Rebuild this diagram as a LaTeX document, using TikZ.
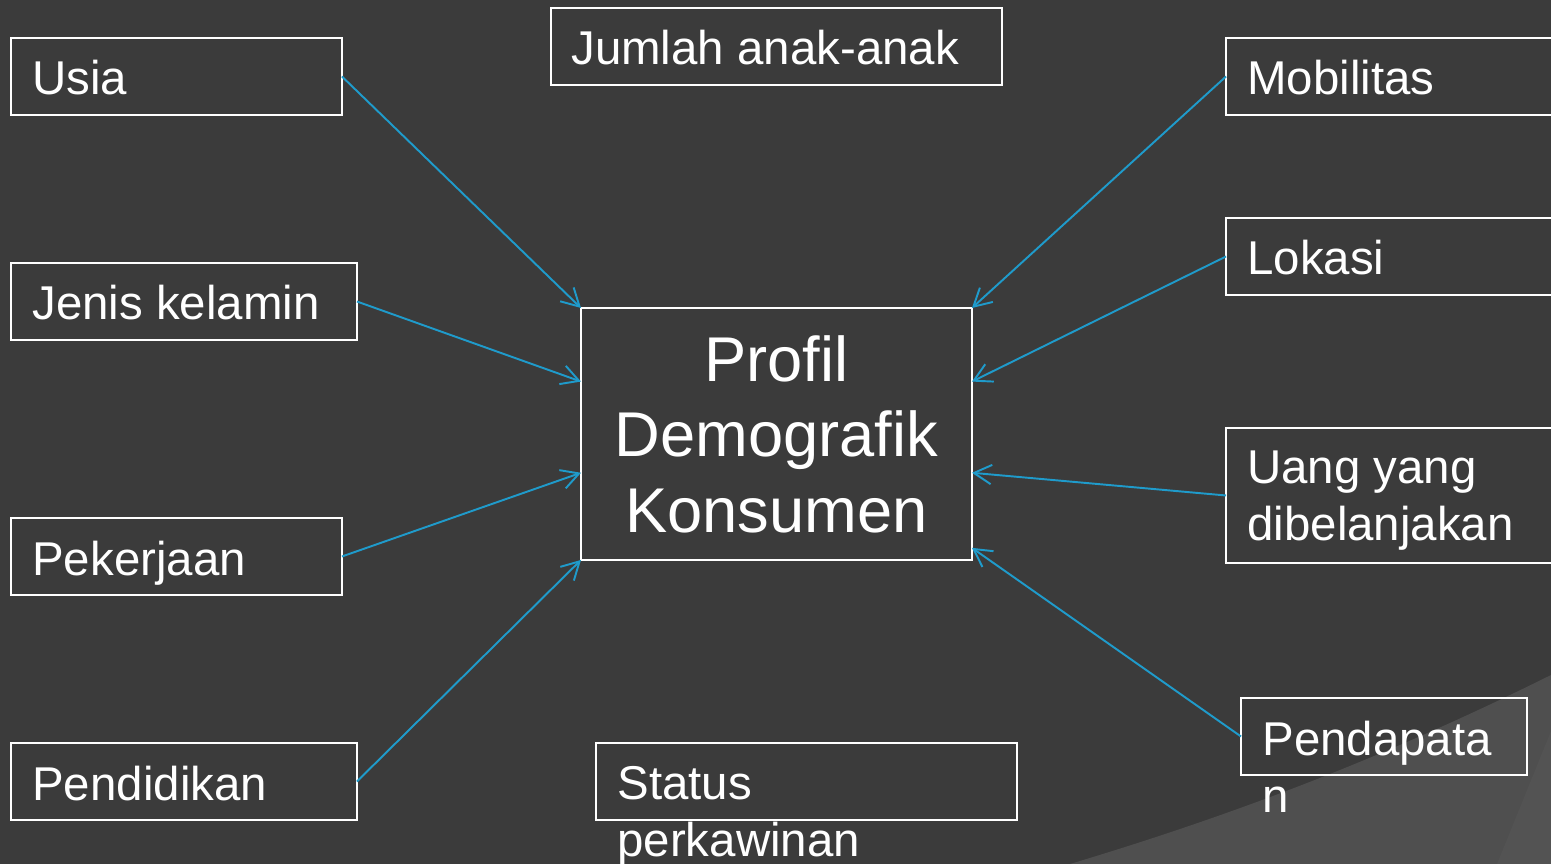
\documentclass[tikz,border=0pt]{standalone}
\usepackage{fontspec}
\setmainfont{Liberation Sans}
\usetikzlibrary{arrows.meta, calc}
\definecolor{bgdark}{HTML}{3B3B3B}
\definecolor{bglight}{HTML}{4F4F4F}
\definecolor{bgedge}{HTML}{535353}
\definecolor{linkblue}{HTML}{1F9BCB}
\tikzstyle{box} = [rectangle, draw=white, line width=1.1pt, inner sep=0pt, outer sep=0pt, anchor=north west, minimum height=1.54cm]
\tikzstyle{lbl} = [text=white, inner sep=0pt, anchor=base west, align=left, font=\fontsize{27}{32.3}\selectfont]
\tikzstyle{arrow} = [draw=linkblue, line width=1.1pt, -{Straight Barb[length=10pt, width=11pt, line width=1.1pt]}]

\begin{document}
\begin{tikzpicture}[x=0.02cm, y=-0.02cm]
  \useasboundingbox (0,0) rectangle (1551,864);
  \clip (0,0) rectangle (1551,864);
  \fill[bgdark] (0,0) rectangle (1551,864);
  \fill[bglight] (1070,864) .. controls (1250,810) and (1400,750) .. (1551,675) -- (1551,864) -- cycle;
  \fill[bgedge] (1497,864) -- (1551,731) -- (1551,864) -- cycle;

  % boxes
  \node[box, minimum width=6.62cm] (usia) at (11,38) {};
  \node[box, minimum width=9.02cm] (anak) at (551,8) {};
  \node[box, minimum width=7.2cm] (mobil) at (1226,38) {};
  \node[box, minimum width=6.92cm] (kelamin) at (11,263) {};
  \node[box, minimum width=7.2cm] (lokasi) at (1226,218) {};
  \node[box, minimum width=7.82cm, minimum height=5.04cm, text=white, align=center,
        font=\fontsize{36}{43}\selectfont] (profil) at (581,308) {Profil\\Demografik\\Konsumen};
  \node[box, minimum width=6.62cm] (kerja) at (11,518) {};
  \node[box, minimum width=7.2cm, minimum height=2.7cm] (uang) at (1226,428) {};
  \node[box, minimum width=6.92cm] (didik) at (11,743) {};
  \node[box, minimum width=5.72cm] (dapat) at (1241,698) {};
  \node[box, minimum width=8.42cm] (status) at (596,743) {};

  % texts (multi-line ones sit on their last line)
  \node[lbl] (usiaT) at (32,95) {Usia};
  \node[lbl] (anakT) at (571,65) {Jumlah anak-anak};
  \node[lbl] (mobilT) at (1247,95) {Mobilitas};
  \node[lbl] (kelaminT) at (32,320) {Jenis kelamin};
  \node[lbl] (lokasiT) at (1247,275) {Lokasi};
  \node[lbl] (kerjaT) at (32,575) {Pekerjaan};
  \node[lbl] (uangT) at (1247,540) {Uang yang\\dibelanjakan};
  \node[lbl] (didikT) at (32,800) {Pendidikan};
  \node[lbl] (dapatT) at (1262,812) {Pendapata\\n};
  \node[lbl] (statusT) at (617,856) {Status\\perkawinan};

  % links
  \draw[arrow] (usia.east) -- (profil.north west);
  \draw[arrow] (kelamin.east) -- ($(profil.north west)!0.292!(profil.south west)$);
  \draw[arrow] (kerja.east) -- ($(profil.north west)!0.654!(profil.south west)$);
  \draw[arrow] (didik.east) -- (profil.south west);
  \draw[arrow] (mobil.west) -- (profil.north east);
  \draw[arrow] (lokasi.west) -- ($(profil.north east)!0.292!(profil.south east)$);
  \draw[arrow] (uang.west) -- ($(profil.north east)!0.654!(profil.south east)$);
  \draw[arrow] (dapat.west) -- ($(profil.north east)!0.952!(profil.south east)$);
\end{tikzpicture}
\end{document}
